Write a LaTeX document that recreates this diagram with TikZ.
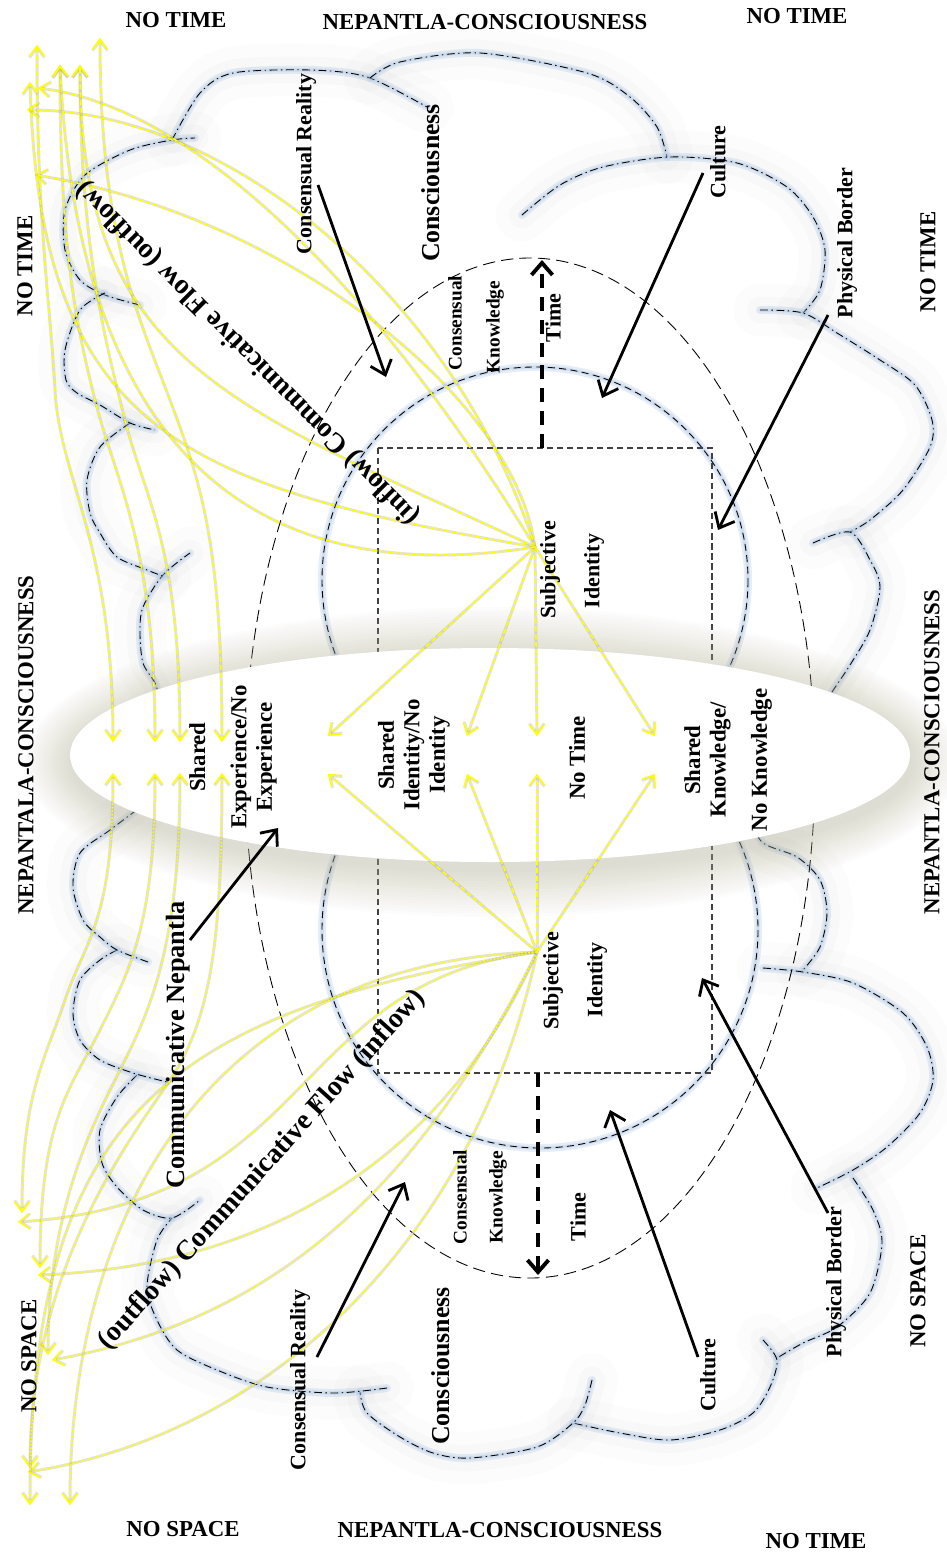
\documentclass[tikz,border=0pt]{standalone}
\usepackage{fontspec}
\setmainfont{Liberation Serif}
\usetikzlibrary{arrows.meta}

\definecolor{glowblue}{RGB}{170,196,228}
\definecolor{haze}{RGB}{140,140,140}
\definecolor{beige}{RGB}{190,186,160}
\definecolor{flowyellow}{RGB}{255,255,0}

\begin{document}
\begin{tikzpicture}[
    x=0.2mm, y=-0.2mm,
    head/.style={font=\fontsize{13}{15}\selectfont\bfseries, inner sep=0pt},
    lbl/.style={font=\fontsize{12.5}{14}\selectfont\bfseries, inner sep=0pt, rotate=90},
    small/.style={font=\fontsize{11}{13}\selectfont\bfseries, inner sep=0pt, rotate=90},
    big/.style={font=\fontsize{14.7}{17}\selectfont\bfseries, inner sep=0pt, rotate=90},
    band/.style={font=\fontsize{13}{14.5}\selectfont\bfseries, inner sep=0pt, rotate=90, align=center},
    flowtext/.style={font=\fontsize{16}{18}\selectfont\bfseries, inner sep=0pt},
    cloudarc/.style={line width=0.5pt, dash pattern=on 4.5pt off 2pt on 0.8pt off 2pt,
      preaction={draw=haze, opacity=0.025, line width=30pt, solid, line cap=round},
      preaction={draw=haze, opacity=0.03, line width=15pt, solid, line cap=round},
      preaction={draw=glowblue, opacity=0.3, line width=4.5pt, solid, line cap=round},
      preaction={draw=glowblue, opacity=0.35, line width=2pt, solid, line cap=round}},
    ring/.style={line width=0.5pt, dash pattern=on 4pt off 2.5pt,
      preaction={draw=glowblue, opacity=0.3, line width=4.5pt, solid},
      preaction={draw=glowblue, opacity=0.35, line width=2pt, solid}},
    oval/.style={line width=0.5pt, dash pattern=on 7pt off 3.5pt},
    frame/.style={draw=black!75, line width=0.6pt, dash pattern=on 3.5pt off 2.2pt},
    timeflow/.style={-{Straight Barb[length=2.4mm,width=4.2mm]}, line width=2.2pt, dash pattern=on 8pt off 5pt},
    pointer/.style={-{Straight Barb[length=2.6mm,width=4.4mm]}, line width=1.6pt},
    ytip/.tip={Straight Barb[length=2mm,width=3mm]},
    yflow/.style={draw=flowyellow, line width=0.9pt, dash pattern=on 3pt off 1.5pt, -ytip,
      preaction={draw=black!45, opacity=0.25, line width=1.7pt}},
    yflowdot/.style={yflow, dash pattern=on 1pt off 1pt},
    ybi/.style={yflow, ytip-ytip},
    ybidot/.style={yflowdot, ytip-ytip},
  ]

  \useasboundingbox (0,0) rectangle (947,1555);
  \fill[white] (0,0) rectangle (947,1555);

  % Cloud outline, one bump at a time (clockwise from the upper left)
  \draw[cloudarc] plot[smooth] coordinates {(140,305) (105,295) (80,280) (65,250) (65,210) (85,175) (130,150) (172,140) (195,138)};
  \draw[cloudarc] plot[smooth] coordinates {(172,140) (200,93) (233,73) (310,70) (367,77) (427,107)};
  \draw[cloudarc] plot[smooth] coordinates {(370,78) (400,62) (480,53) (587,73) (630,97) (657,127) (667,157)};
  \draw[cloudarc] plot[smooth] coordinates {(522,215) (560,185) (603,167) (670,157) (737,163) (787,187) (813,217) (825,250) (820,290) (803,313)};
  \draw[cloudarc] plot[smooth] coordinates {(760,310) (803,313) (837,333) (880,360) (915,385) (932,420) (930,447) (903,490) (870,520) (850,532)};
  \draw[cloudarc] plot[smooth] coordinates {(813,543) (850,532) (870,560) (880,587) (870,630) (850,665) (832,692) (815,720)};
  \draw[cloudarc] plot[smooth] coordinates {(750,820) (763,843) (797,857) (820,880) (827,913) (820,947) (803,970)};
  \draw[cloudarc] plot[smooth] coordinates {(763,968) (803,972) (853,983) (903,1013) (927,1047) (933,1080) (920,1113) (887,1147) (853,1170) (817,1188)};
  \draw[cloudarc] plot[smooth] coordinates {(853,1178) (873,1210) (882,1243) (870,1293) (837,1327) (803,1343) (777,1358)};
  \draw[cloudarc] plot[smooth] coordinates {(763,1340) (777,1360) (770,1387) (753,1413) (720,1430) (670,1440) (620,1433) (573,1423)};
  \draw[cloudarc] plot[smooth] coordinates {(592,1380) (585,1405) (573,1423) (537,1447) (470,1458) (433,1453) (400,1437) (367,1413) (360,1392)};
  \draw[cloudarc] plot[smooth] coordinates {(387,1388) (333,1393) (267,1387) (217,1370) (177,1350) (157,1320) (147,1287) (157,1240) (172,1218)};
  \draw[cloudarc] plot[smooth] coordinates {(137,1075) (117,1097) (100,1130) (102,1163) (117,1187) (143,1210) (172,1218) (200,1200)};
  \draw[cloudarc] plot[smooth] coordinates {(117,950) (100,960) (80,980) (73,1013) (80,1040) (100,1060) (133,1073) (167,1082)};
  \draw[cloudarc] plot[smooth] coordinates {(148,962) (117,950) (100,937) (83,920) (73,887) (80,853) (110,830) (150,800)};
  \draw[cloudarc] plot[smooth] coordinates {(160,700) (155,683) (143,663) (140,633) (143,607) (163,575) (190,553)};
  \draw[cloudarc] plot[smooth] coordinates {(130,423) (100,447) (87,480) (90,513) (100,533) (117,557) (147,570) (165,577)};
  \draw[cloudarc] plot[smooth] coordinates {(105,293) (80,310) (65,350) (66,380) (77,393) (100,405) (130,423) (155,430)};

  % Two identity circles, the frame and the time oval
  \draw[ring] (535,580) circle (213);
  \draw[ring] (540,930) circle (218);
  \draw[frame] (378,448) rectangle (712,1073);
  \draw[oval] (530,768) ellipse (285 and 510);

  % Time arrows
  \coordinate (tU-from) at (542,448);  \coordinate (tU-to) at (542,260);
  \coordinate (tL-from) at (538,1073); \coordinate (tL-to) at (538,1275);
  \draw[timeflow] (tU-from) -- (tU-to);
  \draw[timeflow] (tL-from) -- (tL-to);

  % Shared band (white oval with a soft shadow)
  \foreach \k in {16,...,1}
    \fill[beige, opacity=0.03] (492,762) ellipse ({420+3*\k} and {107+3*\k});
  \fill[white] (490,755) ellipse (420 and 107);

  % Yellow flow anchors
  \coordinate (s1) at (535,547);
  \coordinate (s2) at (537,952);
  \foreach \n/\x in {1/328,2/467,3/537,4/655} {
    \coordinate (u\n) at (\x,736);
    \coordinate (l\n) at (\x,774);
  }
  \foreach \n/\x in {1/113,2/155,3/180,4/222} {
    \coordinate (e\n) at (\x,742);
    \coordinate (f\n) at (\x,773);
  }
  \coordinate (t1) at (37,45);  \coordinate (t2) at (60,65);  \coordinate (t3) at (80,65);
  \coordinate (t4) at (100,38); \coordinate (t5) at (30,82);
  \coordinate (k1) at (38,88);  \coordinate (k2) at (27,110); \coordinate (k3) at (35,175);
  \coordinate (m1) at (18,1222); \coordinate (m2) at (38,1275); \coordinate (m3) at (52,1360); \coordinate (m4) at (28,1472);
  \coordinate (d1) at (22,1213); \coordinate (d2) at (40,1268); \coordinate (d3) at (48,1355);
  \coordinate (d4) at (30,1468); \coordinate (d5) at (30,1505); \coordinate (d6) at (70,1505);

  % Upper flows (from the upper subjective identity)
  \foreach \n in {1,...,4} \draw[yflow] (s1) -- (u\n);
  \draw[ybi] (t1) .. controls +(0,180) and +(-5,-90) .. (55,390) .. controls +(5,90) and +(0,-200) .. (e1);
  \draw[ybi] (t2) .. controls +(0,180) and +(-20,-80) .. (95,400) .. controls +(20,80) and +(0,-200) .. (e2);
  \draw[ybi] (t3) .. controls +(0,180) and +(-20,-80) .. (125,420) .. controls +(20,80) and +(0,-200) .. (e3);
  \draw[ybi] (t4) .. controls +(0,200) and +(-30,-80) .. (170,400) .. controls +(30,80) and +(0,-200) .. (e4);
  \draw[yflow] (s1) .. controls +(-20,-150) and +(250,40) .. (k3);
  \draw[yflow] (s1) .. controls +(-80,-250) and +(200,0) .. (k2);
  \draw[yflow] (s1) .. controls +(-160,-260) and +(160,20) .. (k1);
  \draw[yflow] (s1) .. controls +(-350,-60) and +(10,350) .. (t5);
  \draw[yflow] (s1) .. controls +(-300,-140) and +(0,300) .. (t3);
  \draw[yflow] (s1) .. controls +(-250,40) and +(20,420) .. (t2);

  % Lower flows (from the lower subjective identity)
  \foreach \n in {1,...,4} \draw[yflow] (s2) -- (l\n);
  \draw[ybidot] (f1) .. controls +(0,150) and +(20,-60) .. (65,1000) .. controls +(-20,60) and +(0,-120) .. (d1);
  \draw[ybidot] (f2) .. controls +(0,150) and +(30,-60) .. (100,1030) .. controls +(-30,60) and +(0,-150) .. (d2);
  \draw[ybidot] (f3) .. controls +(0,160) and +(30,-60) .. (125,1060) .. controls +(-30,60) and +(0,-150) .. (d3);
  \draw[ybidot] (f4) .. controls +(0,170) and +(40,-60) .. (170,1080) .. controls +(-40,60) and +(0,-200) .. (d4);
  \draw[yflowdot] (s2) .. controls +(-250,30) and +(300,-20) .. (m1);
  \draw[yflowdot] (s2) .. controls +(-80,180) and +(260,-10) .. (m2);
  \draw[yflowdot] (s2) .. controls +(-120,240) and +(220,-40) .. (m3);
  \draw[yflowdot] (s2) .. controls +(-60,280) and +(250,-40) .. (m4);
  \draw[yflowdot] (s2) .. controls +(-380,60) and +(0,-380) .. (d5);
  \draw[yflowdot] (s2) .. controls +(-320,10) and +(0,-300) .. (d6);

  % Black pointers to the rings, frame and band
  \foreach \n/\xa/\ya/\xb/\yb in {crU/318/185/386/377, cuU/703/173/602/398, pbU/828/315/718/530,
      cn/190/940/278/828, crL/317/1357/405/1182, cuL/698/1357/610/1110, pbL/828/1213/702/978} {
    \coordinate (\n-from) at (\xa,\ya);
    \coordinate (\n-to) at (\xb,\yb);
  }
  \foreach \n in {crU,cuU,pbU,cn,crL,cuL,pbL} \draw[pointer] (\n-from) -- (\n-to);

  % Outer headings
  \node[head] (hdA) at (176,20) {NO TIME};
  \node[head] (hdB) at (485,22) {NEPANTLA-CONSCIOUSNESS};
  \node[head] (hdC) at (797,16) {NO TIME};
  \node[head] (hdD) at (183,1529) {NO SPACE};
  \node[head] (hdE) at (500,1530) {NEPANTLA-CONSCIOUSNESS};
  \node[head] (hdF) at (816,1541) {NO TIME};
  \node[head, rotate=90] (sdA) at (25,266) {NO TIME};
  \node[head, rotate=90] (sdB) at (26,745) {NEPANTALA-CONSCIOUSNESS};
  \node[head, rotate=90] (sdC) at (29,1356) {NO SPACE};
  \node[head, rotate=90] (sdD) at (928,262) {NO TIME};
  \node[head, rotate=90] (sdE) at (932,752) {NEPANTLA-CONSCIOUSNESS};
  \node[head, rotate=90] (sdF) at (918,1291) {NO SPACE};

  % Upper half labels
  \node[lbl] (crU) at (306,164) {Consensual Reality};
  \node[big] (csU) at (431,183) {Consciousness};
  \node[lbl] (cuU) at (718,162) {Culture};
  \node[lbl] (pbU) at (847,243) {Physical Border};
  \node[small] (ckU1) at (455,323) {Consensual};
  \node[small] (ckU2) at (495,327) {Knowledge};
  \node[lbl] (tmU) at (553,318) {Time};
  \node[lbl] (sjU) at (550,570) {Subjective};
  \node[lbl] (idU) at (594,571) {Identity};

  % Shared band labels
  \node[band] (shE) at (233,757) {Shared\\[9pt]Experience/No\\Experience};
  \node[band] (shI) at (414,755) {Shared\\Identity/No\\Identity};
  \node[band] (nt) at (577,758) {No Time};
  \node[band] (shK) at (728,760) {Shared\\Knowledge/\\[9pt]No Knowledge};

  % Lower half labels
  \node[lbl] (sjL) at (553,981) {Subjective};
  \node[lbl] (idL) at (597,980) {Identity};
  \node[small] (ckL1) at (460,1197) {Consensual};
  \node[small] (ckL2) at (498,1197) {Knowledge};
  \node[lbl] (tmL) at (578,1217) {Time};
  \node[lbl] (crL) at (300,1380) {Consensual Reality};
  \node[big] (csL) at (441,1366) {Consciousness};
  \node[lbl] (cuL) at (708,1375) {Culture};
  \node[lbl] (pbL) at (836,1282) {Physical Border};
  \node[font=\fontsize{15}{17}\selectfont\bfseries, inner sep=0pt, rotate=90] (cn) at (178,1045) {Communicative Nepantla};

  % Flow captions
  \node[flowtext, rotate=135] (cfU) at (248,353) {(inflow) Communicative Flow (outflow)};
  \node[flowtext, rotate=48] (cfL) at (262,1170) {(outflow) Communicative Flow (inflow)};

\end{tikzpicture}
\end{document}
